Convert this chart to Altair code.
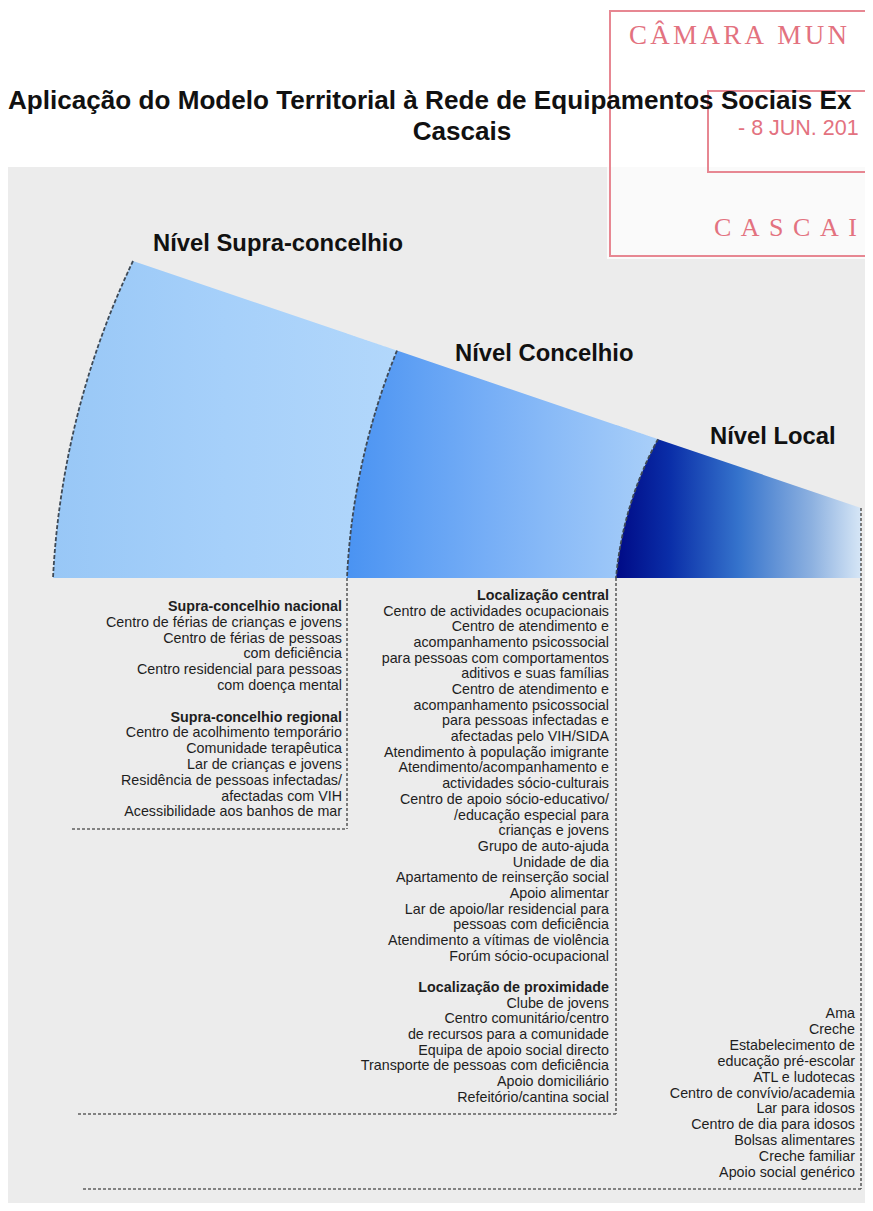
import altair as alt
import pandas as pd
import numpy as np

# ---------------- text content ----------------
title_line1 = "Aplicação do Modelo Territorial à Rede de Equipamentos Sociais Ex"
title_line2 = "Cascais"
level_labels = ["Nível Supra-concelhio", "Nível Concelhio", "Nível Local"]

supra_nac_header = "Supra-concelhio nacional"
supra_nac_items = ["Centro de férias de crianças e jovens", "Centro de férias de pessoas",
                   "com deficiência", "Centro residencial para pessoas", "com doença mental"]
supra_reg_header = "Supra-concelhio regional"
supra_reg_items = ["Centro de acolhimento temporário", "Comunidade terapêutica",
                   "Lar de crianças e jovens", "Residência de pessoas infectadas/",
                   "afectadas com VIH", "Acessibilidade aos banhos de mar"]

central_header = "Localização central"
central_items = ["Centro de actividades ocupacionais", "Centro de atendimento e",
                 "acompanhamento psicossocial", "para pessoas com comportamentos",
                 "aditivos e suas famílias", "Centro de atendimento e",
                 "acompanhamento psicossocial", "para pessoas infectadas e",
                 "afectadas pelo VIH/SIDA", "Atendimento à população imigrante",
                 "Atendimento/acompanhamento e", "actividades sócio-culturais",
                 "Centro de apoio sócio-educativo/", "/educação especial para",
                 "crianças e jovens", "Grupo de auto-ajuda", "Unidade de dia",
                 "Apartamento de reinserção social", "Apoio alimentar",
                 "Lar de apoio/lar residencial para", "pessoas com deficiência",
                 "Atendimento a vítimas de violência", "Forúm sócio-ocupacional"]
prox_header = "Localização de proximidade"
prox_items = ["Clube de jovens", "Centro comunitário/centro", "de recursos para a comunidade",
              "Equipa de apoio social directo", "Transporte de pessoas com deficiência",
              "Apoio domiciliário", "Refeitório/cantina social"]

local_items = ["Ama", "Creche", "Estabelecimento de", "educação pré-escolar", "ATL e ludotecas",
               "Centro de convívio/academia", "Lar para idosos", "Centro de dia para idosos",
               "Bolsas alimentares", "Creche familiar", "Apoio social genérico"]

stamp_line1 = "CÂMARA MUN"
stamp_date = "- 8 JUN. 201"
stamp_line3 = "CASCAI"

# ---------------- layout geometry (page pixel coordinates) ----------------
X0, X1, Y0, Y1 = 8, 865, 8, 1203
BASE_Y = 578
TOP_A, TOP_B = (133, 261), (861, 508)


def top_line(x):
    return TOP_A[1] + (TOP_B[1] - TOP_A[1]) / (TOP_B[0] - TOP_A[0]) * (np.asarray(x) - TOP_A[0])


def arc_geom(xb, xt, cy):
    yt = float(top_line(xt))
    cx = (xt ** 2 - xb ** 2 + (cy - yt) ** 2 - (cy - BASE_Y) ** 2) / (2 * (xt - xb))
    r = np.hypot(cx - xb, cy - BASE_Y)
    return dict(cx=cx, cy=cy, r=r, xb=xb, xt=xt, yt=yt)


def arc_pts(a, n=60):
    ys = np.linspace(a["yt"], BASE_Y, n)
    xs = a["cx"] - np.sqrt(np.maximum(a["r"] ** 2 - (ys - a["cy"]) ** 2, 0))
    return xs, ys


arc_outer = arc_geom(53, 133, 620)
arc_mid = arc_geom(347, 397, 610)
arc_loc = arc_geom(616, 658, 610)
RIGHT_X = 861


def segment(left, right):
    xs_l, ys_l = arc_pts(left)
    recs = [dict(x=x, yt=y, yb=BASE_Y) for x, y in zip(xs_l, ys_l)]
    if right is None:
        recs.append(dict(x=RIGHT_X, yt=float(top_line(RIGHT_X)), yb=BASE_Y))
    else:
        xs_r, ys_r = arc_pts(right)
        for x, y in zip(xs_r, ys_r):
            recs.append(dict(x=x, yt=float(top_line(x)), yb=y))
    return pd.DataFrame(recs)


xsc = alt.Scale(domain=[X0, X1], nice=False, zero=False)
ysc = alt.Scale(domain=[Y0, Y1], nice=False, zero=False, reverse=True)


def X(f="x"):
    return alt.X(f"{f}:Q", scale=xsc, axis=None)


def Y(f="y"):
    return alt.Y(f"{f}:Q", scale=ysc, axis=None)


layers = []

# grey panel
panel = pd.DataFrame([dict(x=8, x2=900, y=167, y2=1250)])
layers.append(alt.Chart(panel).mark_rect(color="#ececec", clip=True).encode(
    x=X(), x2="x2:Q", y=Y(), y2="y2:Q"))

# stamp background and frames
stamp_bg = pd.DataFrame([dict(x=607, x2=900, y=0, y2=259)])
layers.append(alt.Chart(stamp_bg).mark_rect(color="#ffffff", opacity=0.72, clip=True).encode(
    x=X(), x2="x2:Q", y=Y(), y2="y2:Q"))
stamp_frames = pd.DataFrame([dict(x=610, x2=920, y=11, y2=256),
                             dict(x=708, x2=920, y=91, y2=172)])
RED = "#e3727f"
layers.append(alt.Chart(stamp_frames).mark_rect(filled=False, stroke=RED, clip=True,
                                               strokeWidth=2, opacity=0.85).encode(
    x=X(), x2="x2:Q", y=Y(), y2="y2:Q"))

# letter-spaced stamp words (Times-like advance widths)
TIMES_W = {"C": .667, "Â": .722, "M": .889, "A": .722, "R": .667, " ": .25,
           "U": .722, "N": .722, "S": .556, "I": .333}


def spaced(word, x0, y, size, spacing):
    out, x = [], x0
    for ch in word:
        if ch != " ":
            out.append(dict(x=x, y=y, t=ch, s=size))
        x += TIMES_W[ch] * size + spacing
    return out


stamp_chars = spaced(stamp_line1, 629, 36, 27, 3.3) + spaced(stamp_line3, 714, 228, 26, 9.5)
layers.append(alt.Chart(pd.DataFrame(stamp_chars)).mark_text(
    align="left", baseline="middle", font="Liberation Serif", color=RED).encode(
    x=X(), y=Y(), text="t:N", size=alt.Size("s:Q", scale=None, legend=None)))
layers.append(alt.Chart(pd.DataFrame([dict(x=738, y=129, t=stamp_date)])).mark_text(
    align="left", baseline="middle", font="Liberation Sans", fontSize=21.5, color=RED).encode(
    x=X(), y=Y(), text="t:N"))


# fan segments with gradients
def grad(stops):
    return alt.Gradient(gradient="linear", x1=0, x2=1, y1=0, y2=0,
                        stops=[alt.GradientStop(offset=o, color=c) for o, c in stops])


seg_specs = [
    (segment(arc_outer, arc_mid), [(0, "#98c7f6"), (0.5, "#a6d0fa"), (1, "#b2d7fb")]),
    (segment(arc_mid, arc_loc), [(0, "#4a93f2"), (0.45, "#76aef6"), (1, "#a9cff9")]),
    (segment(arc_loc, None), [(0, "#000a86"), (0.22, "#0a2ea8"), (0.5, "#3573cc"),
                              (0.8, "#8db1e0"), (1, "#d6e6f6")]),
]
for df, stops in seg_specs:
    layers.append(alt.Chart(df).mark_area(orient="vertical", color=grad(stops)).encode(
        x=X(), y=Y("yt"), y2="yb:Q"))

# dashed arcs
arc_rows = []
for k, a in enumerate([arc_outer, arc_mid, arc_loc]):
    xs, ys = arc_pts(a, 80)
    for i, (x, y) in enumerate(zip(xs, ys)):
        arc_rows.append(dict(x=x, y=y, arc=k, i=i))
layers.append(alt.Chart(pd.DataFrame(arc_rows)).mark_line(
    color="#3f4a56", strokeDash=[4, 2], strokeWidth=1.8).encode(
    x=X(), y=Y(), detail="arc:N", order="i:Q"))

# dashed rules (columns and boxes)
rules = pd.DataFrame([
    dict(x=861, x2=861, y=508, y2=1189),
    dict(x=347, x2=347, y=578, y2=829),
    dict(x=616, x2=616, y=578, y2=1114),
    dict(x=72, x2=347, y=829, y2=829),
    dict(x=78, x2=616, y=1114, y2=1114),
    dict(x=83, x2=861, y=1189, y2=1189),
])
layers.append(alt.Chart(rules).mark_rule(color="#5f5f5f", strokeDash=[3, 2], strokeWidth=1.6).encode(
    x=X(), x2="x2:Q", y=Y(), y2="y2:Q"))

# column texts
rows = []


def add_column(blocks, xr, y0, step):
    i = 0
    for bi, (header, items) in enumerate(blocks):
        if bi > 0:
            i += 1
        if header:
            rows.append(dict(x=xr, y=y0 + i * step, t=header, b=1))
            i += 1
        for it in items:
            rows.append(dict(x=xr, y=y0 + i * step, t=it, b=0))
            i += 1


add_column([(supra_nac_header, supra_nac_items), (supra_reg_header, supra_reg_items)], 342, 607, 15.8)
add_column([(central_header, central_items), (prox_header, prox_items)], 609, 596, 15.68)
add_column([(None, local_items)], 855, 1014, 15.9)
tdf = pd.DataFrame(rows)
for b in (0, 1):
    layers.append(alt.Chart(tdf[tdf.b == b]).mark_text(
        align="right", baseline="middle", font="Liberation Sans", fontSize=14.3,
        fontWeight="bold" if b else "normal", color="#1e1e1e").encode(
        x=X(), y=Y(), text="t:N"))

# level labels
lv = pd.DataFrame([dict(x=153, y=244, t=level_labels[0]),
                   dict(x=455, y=354, t=level_labels[1]),
                   dict(x=710, y=437, t=level_labels[2])])
layers.append(alt.Chart(lv).mark_text(align="left", baseline="middle", font="Liberation Sans",
                                      fontSize=23.8, fontWeight="bold", color="#111111").encode(
    x=X(), y=Y(), text="t:N"))

# title
tt = pd.DataFrame([dict(x=8, y=101, t=title_line1)])
layers.append(alt.Chart(tt).mark_text(align="left", baseline="middle", font="Liberation Sans",
                                      fontSize=26.1, fontWeight="bold", color="#111111").encode(
    x=X(), y=Y(), text="t:N"))
tt2 = pd.DataFrame([dict(x=462, y=132, t=title_line2)])
layers.append(alt.Chart(tt2).mark_text(align="center", baseline="middle", font="Liberation Sans",
                                       fontSize=26.1, fontWeight="bold", color="#111111").encode(
    x=X(), y=Y(), text="t:N"))

chart = alt.layer(*layers).properties(
    width=X1 - X0, height=Y1 - Y0, padding=0,
    autosize=alt.AutoSizeParams(type="none"),
    background="#ffffff",
).configure_view(stroke=None)

chart.save("out.html", embed_options={"renderer": "svg", "actions": False})
